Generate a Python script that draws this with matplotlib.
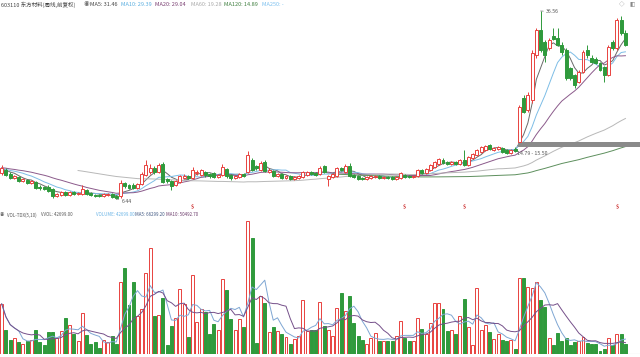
import numpy as np
import pandas as pd
import matplotlib
matplotlib.use("Agg")
import matplotlib.pyplot as plt
import matplotlib.transforms as mtransforms

plt.rcParams["font.family"] = ["Noto Sans CJK SC", "DejaVu Sans"]

# 603110 weekly bars, forward-adjusted prices
opens = [
    10.60, 11.08, 10.44, 9.79, 9.96, 9.31, 9.47, 8.99, 9.15, 8.35,
    8.35, 8.35, 8.03, 6.91, 7.07, 7.55, 7.07, 7.55, 7.23, 7.23,
    7.87, 7.39, 7.07, 7.07, 6.91, 7.07, 7.23, 6.91, 6.91, 8.99,
    8.67, 8.67, 8.19, 8.83, 10.28, 10.76, 11.40, 10.76, 12.04, 9.63,
    9.31, 8.67, 9.15, 9.79, 10.12, 9.79, 10.60, 10.28, 10.76, 10.44,
    10.60, 9.96, 10.28, 11.24, 10.28, 9.79, 9.96, 10.44, 10.76, 12.68,
    11.72, 11.08, 12.36, 10.76, 10.92, 10.12, 10.44, 9.79, 10.12, 9.63,
    9.79, 9.96, 10.28, 10.76, 10.60, 10.44, 11.72, 9.63, 9.96, 10.12,
    11.40, 10.76, 11.72, 10.28, 10.12, 9.79, 9.63, 9.79, 9.96, 10.12,
    9.79, 9.96, 9.96, 9.63, 9.79, 10.28, 10.12, 9.96, 10.12, 11.08,
    10.60, 11.08, 11.56, 12.04, 12.68, 12.36, 12.04, 12.36, 12.04, 12.68,
    11.88, 13.00, 13.48, 13.96, 14.28, 15.08, 14.28, 14.44, 14.60, 14.28,
    13.80, 14.44, 15.60, 22.61, 20.69, 22.29, 29.51, 33.51, 31.59, 30.63,
    32.55, 32.23, 31.11, 30.31, 27.42, 26.30, 25.18, 26.78, 30.31, 29.03,
    28.87, 28.22, 27.58, 26.30, 31.59, 30.63, 35.12, 33.03,
]
closes = [
    11.40, 10.28, 9.79, 10.12, 9.31, 9.63, 8.99, 9.31, 8.19, 8.19,
    8.03, 7.71, 6.91, 7.23, 7.55, 7.07, 7.55, 7.23, 7.39, 8.03,
    7.23, 7.07, 6.91, 6.91, 7.23, 7.23, 6.75, 6.59, 8.99, 8.51,
    8.19, 8.19, 8.83, 10.44, 11.88, 11.40, 10.76, 11.88, 9.15, 9.31,
    8.51, 9.31, 10.12, 10.12, 9.79, 11.08, 10.76, 11.08, 10.28, 10.12,
    9.96, 10.28, 11.56, 10.12, 9.79, 10.12, 10.44, 10.12, 13.48, 11.08,
    11.40, 12.20, 10.92, 11.08, 10.12, 10.44, 9.79, 10.12, 9.63, 9.96,
    10.12, 10.76, 10.76, 10.44, 10.28, 11.40, 10.76, 10.12, 10.44, 11.40,
    11.08, 11.72, 10.12, 9.96, 9.63, 9.63, 9.96, 10.12, 10.12, 9.79,
    9.96, 9.79, 9.63, 9.96, 10.60, 9.96, 9.96, 10.12, 11.08, 10.60,
    11.24, 11.88, 12.36, 12.84, 12.20, 12.04, 12.36, 12.04, 12.68, 11.88,
    13.16, 13.64, 14.28, 14.76, 14.92, 14.44, 14.60, 14.76, 13.96, 13.80,
    14.28, 14.12, 21.17, 20.37, 23.10, 29.83, 33.51, 30.31, 29.51, 31.91,
    32.07, 31.11, 29.99, 25.82, 25.82, 24.70, 26.78, 29.99, 29.51, 28.39,
    28.22, 27.10, 26.30, 30.79, 30.63, 35.12, 33.03, 31.11,
]
highs = [
    11.88, 11.40, 10.76, 10.28, 10.12, 9.79, 9.63, 9.47, 9.31, 8.67,
    8.51, 8.67, 8.19, 7.39, 7.71, 7.71, 7.71, 7.71, 7.55, 8.67,
    8.03, 7.55, 7.23, 7.23, 7.39, 7.39, 7.39, 7.07, 9.47, 9.15,
    8.83, 8.99, 8.99, 10.76, 12.68, 12.04, 11.72, 12.20, 12.36, 9.79,
    9.47, 9.47, 10.28, 10.44, 10.28, 11.56, 11.08, 11.24, 10.92, 10.60,
    10.76, 10.44, 12.04, 11.40, 10.44, 10.28, 10.60, 10.60, 14.12, 13.00,
    11.88, 12.52, 12.68, 11.40, 11.08, 10.60, 10.60, 10.28, 10.28, 10.12,
    10.28, 10.92, 10.92, 10.92, 10.76, 11.72, 11.88, 10.28, 10.60, 11.56,
    11.56, 12.04, 12.20, 10.44, 10.28, 9.96, 10.12, 10.28, 10.28, 10.28,
    10.12, 10.12, 10.12, 10.12, 10.76, 10.44, 10.28, 10.28, 11.24, 11.24,
    11.40, 12.04, 12.52, 13.00, 13.00, 12.52, 12.52, 12.52, 12.84, 14.28,
    13.32, 13.80, 14.44, 14.92, 15.08, 15.24, 14.76, 14.92, 14.76, 14.44,
    14.44, 14.79, 21.49, 23.10, 23.58, 30.31, 33.83, 36.56, 31.91, 32.23,
    33.83, 33.83, 31.59, 30.63, 27.58, 26.46, 27.10, 30.31, 31.11, 29.51,
    29.19, 28.39, 27.74, 31.11, 31.91, 35.44, 35.76, 33.51,
]
lows = [
    10.28, 10.12, 9.63, 9.63, 9.15, 9.15, 8.83, 8.83, 8.03, 7.87,
    7.87, 7.55, 6.59, 6.75, 6.91, 6.91, 6.91, 7.07, 7.07, 7.07,
    7.07, 6.91, 6.75, 6.75, 6.75, 6.91, 6.59, 6.44, 6.59, 8.19,
    8.03, 8.03, 8.03, 8.67, 10.12, 10.44, 10.44, 10.60, 8.99, 8.99,
    7.87, 8.51, 8.99, 9.63, 9.63, 9.63, 10.28, 10.12, 9.96, 9.79,
    9.79, 9.79, 10.12, 9.79, 9.47, 9.63, 9.79, 9.96, 10.60, 10.92,
    11.08, 10.92, 10.76, 10.60, 9.96, 9.96, 9.63, 9.63, 9.47, 9.47,
    9.63, 9.79, 10.12, 10.28, 10.12, 10.28, 10.60, 8.51, 9.79, 9.96,
    10.92, 10.60, 9.96, 9.79, 9.47, 9.47, 9.47, 9.63, 9.79, 9.63,
    9.63, 9.63, 9.47, 9.47, 9.63, 9.79, 9.79, 9.79, 9.96, 10.44,
    10.44, 10.92, 11.40, 11.88, 12.04, 11.88, 11.88, 11.88, 11.88, 11.72,
    11.72, 12.84, 13.32, 13.80, 14.12, 14.28, 14.12, 14.28, 13.80, 13.64,
    13.64, 13.96, 15.50, 20.21, 20.37, 21.81, 29.03, 29.99, 28.39, 30.31,
    31.91, 30.95, 29.51, 25.50, 25.50, 24.22, 25.02, 26.62, 29.03, 28.22,
    28.06, 26.94, 25.18, 26.14, 30.31, 30.31, 32.71, 30.95,
]
# weekly volume, thousand lots
volumes_k = [
    223, 107, 62, 71, 53, 45, 58, 62, 107, 53,
    40, 98, 98, 71, 102, 160, 129, 89, 58, 182,
    85, 45, 53, 27, 62, 53, 80, 45, 320, 383,
    218, 320, 169, 200, 360, 472, 169, 174, 249, 40,
    125, 160, 289, 223, 76, 352, 142, 200, 187, 89,
    134, 107, 334, 285, 156, 107, 156, 120, 592, 516,
    49, 258, 227, 98, 120, 102, 89, 76, 45, 67,
    80, 240, 102, 107, 107, 231, 125, 107, 80, 205,
    271, 191, 258, 138, 80, 62, 45, 71, 93, 58,
    58, 58, 58, 80, 147, 71, 58, 58, 160, 111,
    89, 138, 227, 227, 200, 102, 107, 89, 169, 245,
    120, 40, 294, 107, 129, 98, 67, 89, 62, 58,
    62, 22, 338, 338, 298, 294, 320, 240, 209, 71,
    40, 93, 58, 71, 40, 53, 58, 76, 49, 45,
    45, 13, 22, 71, 40, 89, 89, 42.699,
]
# earlier weekly closes, off screen, only feed the moving averages
prior_closes = [
    13.6, 13.9, 14.2, 13.8, 13.5, 13.1, 13.4, 13.0, 12.7, 12.9,
    12.5, 12.2, 12.6, 12.9, 12.4, 12.1, 11.8, 12.0, 12.3, 12.0,
    11.7, 11.5, 11.9, 12.2, 11.8, 11.6, 11.3, 11.5, 11.8, 11.6,
    11.3, 11.1, 11.4, 11.6, 11.3, 11.0, 11.2, 11.5, 11.3, 11.1, 11.2,
]

price_ma = [(5, "#6a6a6a"), (10, "#7dbde6"), (20, "#8b5a8b"),
            (60, "#b8b8b8"), (120, "#5d8f5d")]
vol_ma = [(5, "#7ea6d3"), (10, "#75508a")]
event_bars = [45, 95, 109, 145]
gap_start, gap_low, gap_high = 122, 14.79, 15.50

UP = "#e8423f"
DOWN = "#2f9a3c"
W, H = 640, 357


def rect(top, bottom):
    return [0, 1 - bottom / H, 1, (bottom - top) / H]


def ftext(x, y, s, color, size=4.0, **kw):
    fig.text(x / W, 1 - y / H, s, color=color, fontsize=size, va="center", ha="left", **kw)


fig = plt.figure(figsize=(W / 100, H / 100), dpi=100)
ax = fig.add_axes(rect(8, 212))
axv = fig.add_axes(rect(218, 354))

x = np.arange(len(closes))
o, c, h, l = (np.array(a) for a in (opens, closes, highs, lows))
up = c >= o
edge = np.where(up, UP, DOWN)
face = np.where(up, "white", DOWN)

# candles: wick under a white-filled body so hollow reds stay hollow
ax.vlines(x, l, h, colors=edge, lw=0.7, zorder=2)
body = np.maximum(np.abs(c - o), 0.07)
ax.bar(x, body, bottom=np.minimum(o, c), width=0.7, color=face,
       edgecolor=edge, linewidth=0.7, zorder=3)

allc = pd.Series(prior_closes + closes)
n0 = len(prior_closes)
for win, col in price_ma:
    ma = allc.rolling(win).mean().to_numpy()[n0:]
    ax.plot(x, ma, color=col, lw=0.7, zorder=1.5)

# unfilled gap marker
ax.fill_between([gap_start - 0.4, 151], gap_low, gap_high, color="#8a8a8a", lw=0, zorder=2.5)
ax.text(gap_start - 0.6, 13.80, f"{gap_low:.2f} - {gap_high:.2f}", fontsize=3.8,
        color="#555555", va="center", ha="left", zorder=4)

imax = int(np.argmax(h))
imin = int(np.argmin(l))
ax.annotate(f"{h[imax]:.2f}", xy=(imax, h[imax]), xytext=(imax + 1.3, h[imax] - 0.1),
            fontsize=3.8, color="#555555", va="center",
            arrowprops=dict(arrowstyle="-", color="#777777", lw=0.5, shrinkA=0, shrinkB=0))
ax.annotate(f"{l[imin]:.2f}", xy=(imin, l[imin]), xytext=(imin + 1.2, l[imin] - 0.33),
            fontsize=3.8, color="#555555", va="center",
            arrowprops=dict(arrowstyle="-", color="#777777", lw=0.5, shrinkA=0, shrinkB=0))

trans = mtransforms.blended_transform_factory(ax.transData, ax.transAxes)
for b in event_bars:
    ax.text(b, 0.025, "$", transform=trans, fontsize=4, color="#d03a3a",
            ha="center", va="center", fontweight="bold")

ax.set_xlim(-0.40, 150.43)
ax.set_ylim(4.35, 37.04)

# volume panel
vol = np.array(volumes_k)
axv.bar(x, vol, width=0.7, color=face, edgecolor=edge, linewidth=0.7, zorder=2)
vs = pd.Series(volumes_k)
for win, col in vol_ma:
    axv.plot(x, vs.rolling(win, min_periods=1).mean(), color=col, lw=0.7, zorder=3)
axv.axhline(0, color="#c8c8c8", lw=0.8, zorder=1)
axv.set_xlim(-0.40, 150.43)
axv.set_ylim(0, 605)

for a in (ax, axv):
    a.set_xticks([])
    a.set_yticks([])
    for s in a.spines.values():
        s.set_visible(False)

# header lines
ftext(1, 5, "603110 东方材料(周线,前复权)", "#444444")
ftext(84, 5, "◉", "#777777")
ftext(90, 5, "MA5: 31.46", "#444444")
ftext(121, 5, "MA10: 29.39", "#5aaee0")
ftext(155, 5, "MA20: 29.04", "#7a3f72")
ftext(191, 5, "MA60: 19.28", "#aaaaaa")
ftext(224, 5, "MA120: 14.89", "#3f7f3f")
ftext(262, 5, "MA250: -", "#7cc0ef")
ftext(619, 5, "◇", "#888888")
ftext(629, 5, "◧", "#888888")

vsize = 3.2
ftext(0, 215, "◉", "#777777", vsize)
ftext(7, 215, "VOL-TDX(5,10)", "#555555", vsize)
ftext(41, 215, "VVOL: 42699.00", "#555555", vsize)
ftext(96, 215, "VOLUME: 42699.00", "#6ab4e6", vsize)
ftext(135, 215, "MA5: 66299.20", "#3d5580", vsize)
ftext(166, 215, "MA10: 50492.70", "#6b3b6b", vsize)

fig.savefig("out.png", dpi=100)
